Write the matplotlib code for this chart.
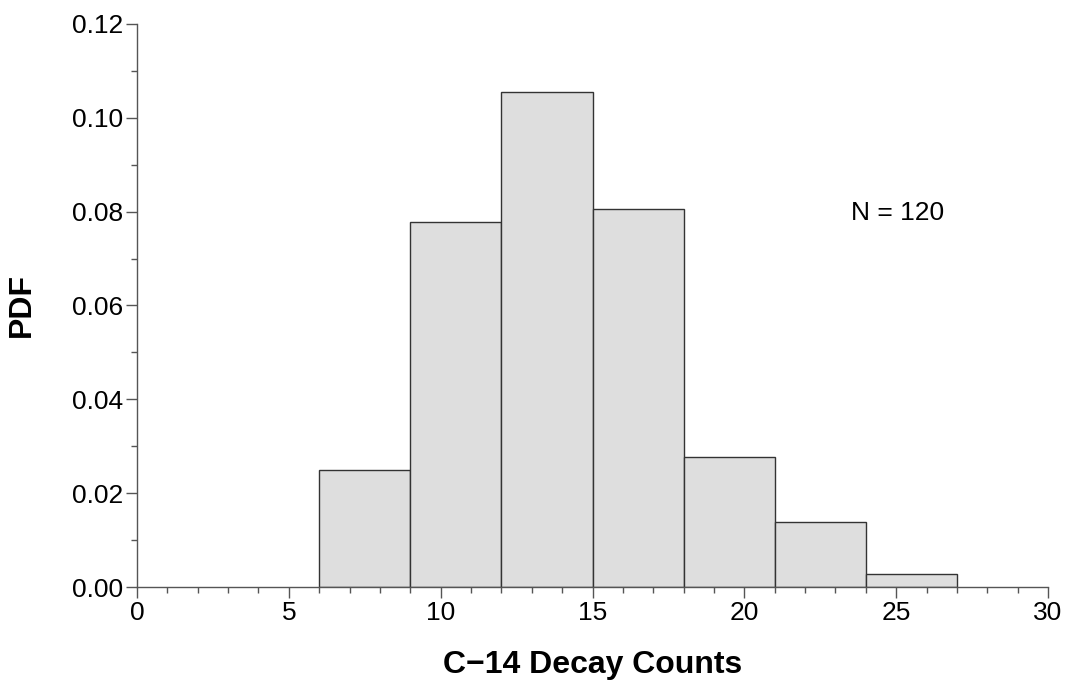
import numpy as np
import matplotlib.pyplot as plt
from matplotlib.ticker import MultipleLocator

plt.rcParams['font.family'] = ['Liberation Sans', 'DejaVu Sans']

# C-14 decay counts histogram, bins of width 3
bin_edges = [6, 9, 12, 15, 18, 21, 24, 27]
bin_counts = [9, 28, 38, 29, 10, 5, 1]
n_total = 120

counts = np.array(bin_counts)
widths = np.diff(bin_edges)
pdf = counts / (n_total * widths)

fig = plt.figure(figsize=(10.67, 6.81), dpi=100)
ax = fig.add_axes([0.1284, 0.138, 0.8538, 0.8268])

ax.bar(bin_edges[:-1], pdf, width=widths, align='edge',
       color='#dedede', edgecolor='#333333', linewidth=1.0)

ax.set_xlim(0, 30)
ax.set_ylim(0, 0.12)
ax.xaxis.set_major_locator(MultipleLocator(5))
ax.xaxis.set_minor_locator(MultipleLocator(1))
ax.yaxis.set_major_locator(MultipleLocator(0.02))
ax.yaxis.set_minor_locator(MultipleLocator(0.01))
ax.yaxis.set_major_formatter(plt.FormatStrFormatter('%.2f'))

for s in ['top', 'right']:
    ax.spines[s].set_visible(False)
for s in ['left', 'bottom']:
    ax.spines[s].set_color('#555555')
    ax.spines[s].set_linewidth(1.0)

ax.tick_params(which='both', direction='out', color='#555555', width=1.0)
ax.tick_params(which='major', length=8, labelsize=19, pad=2)
ax.tick_params(which='minor', length=4.5)

ax.set_xlabel('C\u221214 Decay Counts', fontsize=23, fontweight='bold')
ax.set_ylabel('PDF', fontsize=23, fontweight='bold')
ax.xaxis.set_label_coords(0.5, -0.138)
ax.yaxis.set_label_coords(-0.126, 0.5)
ax.xaxis.label.set_va('center')
ax.yaxis.label.set_va('center')

ax.text(23.5, 0.0797, 'N = %d' % n_total, fontsize=19, va='center')

fig.savefig('out.png', dpi=100)
